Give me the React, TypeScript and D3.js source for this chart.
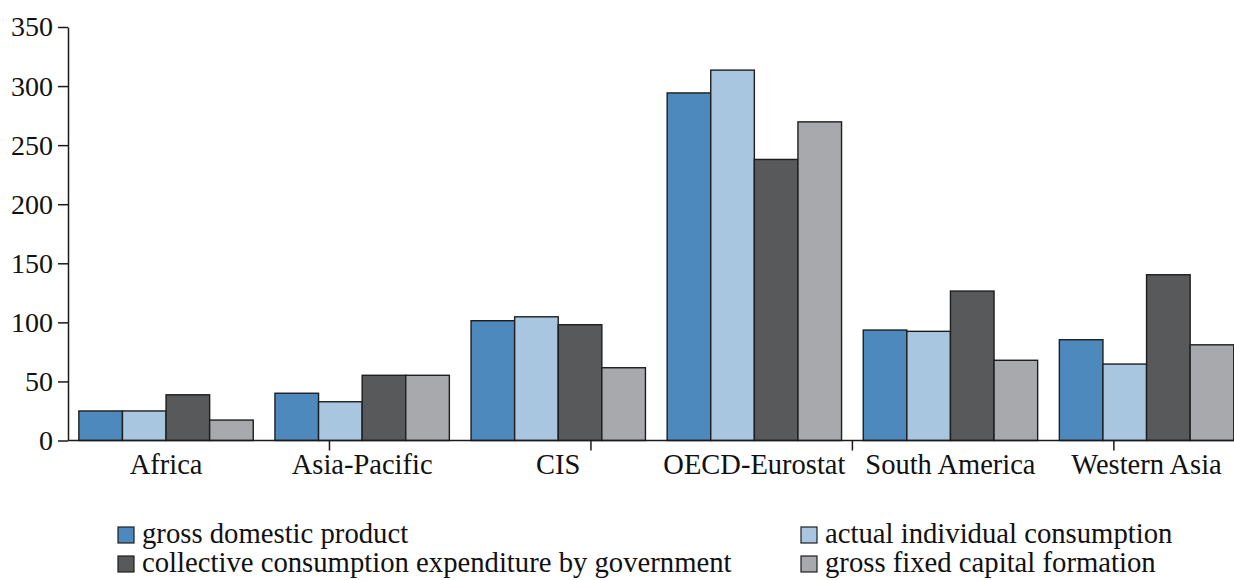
import React, { useEffect, useRef } from 'react';
import * as d3 from 'd3';

const regions = ['Africa', 'Asia-Pacific', 'CIS', 'OECD-Eurostat', 'South America', 'Western Asia'];
const seriesNames = [
    'gross domestic product',
    'actual individual consumption',
    'collective consumption expenditure by government',
    'gross fixed capital formation',
];
const gdp = [25, 40, 101.4, 294.2, 93.5, 85.3];
const individual = [25, 32.8, 104.7, 313.5, 92.4, 64.7];
const collective = [38.7, 55.2, 98, 237.9, 126.5, 140.3];
const capital = [17.3, 55.2, 61.6, 269.7, 67.9, 81];
const yTicks = [0, 50, 100, 150, 200, 250, 300, 350];
const colors = ['#4d89bd', '#a8c6e0', '#58595b', '#a8a9ad'];

const App = () => {
    const svgRef = useRef(null);

    useEffect(() => {
        const svg = d3.select(svgRef.current);
        svg.selectAll('*').remove();

        const width = 1234;
        const left = 68;
        const top = 27;
        const bottom = 440.5;
        const band = 196.1;
        const font = "'Liberation Serif', 'DejaVu Serif', serif";
        const values = [gdp, individual, collective, capital];

        const x0 = d3.scaleBand().domain(regions).range([left, left + band * regions.length]).padding(0);
        const x1 = d3.scaleBand().domain(seriesNames).range([10.85, band - 10.85]).padding(0);
        const y = d3.scaleLinear().domain([0, 350]).range([bottom, top]);

        // bars
        regions.forEach((r, i) => {
            const g = svg.append('g').attr('transform', `translate(${x0(r)},0)`);
            seriesNames.forEach((s, j) => {
                const v = values[j][i];
                g.append('rect')
                    .attr('x', x1(s))
                    .attr('y', y(v))
                    .attr('width', x1.bandwidth())
                    .attr('height', y(0) - y(v))
                    .attr('fill', colors[j])
                    .attr('stroke', '#1e1e1e')
                    .attr('stroke-width', 1.4);
            });
        });

        // y axis
        const yAxis = svg.append('g')
            .attr('transform', `translate(${left},0)`)
            .call(d3.axisLeft(y).tickValues(yTicks).tickSize(10).tickSizeOuter(0).tickPadding(5));
        yAxis.attr('font-family', null).attr('font-size', null);
        yAxis.select('.domain').attr('stroke', '#1a1a1a').attr('stroke-width', 1.5);
        yAxis.selectAll('line').attr('stroke', '#1a1a1a').attr('stroke-width', 1.5);
        yAxis.selectAll('text')
            .style('font-family', font)
            .style('font-size', '28px')
            .attr('fill', '#111');

        // x axis line and its ticks (original ticks fall every 4/3 of a category)
        svg.append('line')
            .attr('x1', left).attr('x2', width)
            .attr('y1', bottom).attr('y2', bottom)
            .attr('stroke', '#1a1a1a').attr('stroke-width', 1.5);
        const xLin = d3.scaleLinear().domain([0, regions.length]).range([left, left + band * regions.length]);
        [4 / 3, 8 / 3, 4, 16 / 3].forEach(t => {
            svg.append('line')
                .attr('x1', xLin(t)).attr('x2', xLin(t))
                .attr('y1', bottom).attr('y2', bottom + 10)
                .attr('stroke', '#1a1a1a').attr('stroke-width', 1.5);
        });

        regions.forEach(r => {
            svg.append('text')
                .attr('x', x0(r) + band / 2)
                .attr('y', 474)
                .attr('text-anchor', 'middle')
                .style('font-family', font)
                .style('font-size', '28.5px')
                .attr('fill', '#111')
                .text(r);
        });

        // legend
        const legendPos = [
            { x: 118, y: 543 },
            { x: 801, y: 543 },
            { x: 118, y: 572 },
            { x: 801, y: 572 },
        ];
        seriesNames.forEach((s, j) => {
            const p = legendPos[j];
            svg.append('rect')
                .attr('x', p.x).attr('y', p.y - 16)
                .attr('width', 16).attr('height', 16)
                .attr('fill', colors[j])
                .attr('stroke', '#1e1e1e').attr('stroke-width', 1.2);
            svg.append('text')
                .attr('x', p.x + 24)
                .attr('y', p.y)
                .style('font-family', font)
                .style('font-size', '28.7px')
                .attr('fill', '#111')
                .text(s);
        });
    }, []);

    return (
        <svg ref={svgRef} width={1234} height={580} style={{ position: 'absolute', left: 0, top: 0, background: '#fff' }} />
    );
};

export default App;
